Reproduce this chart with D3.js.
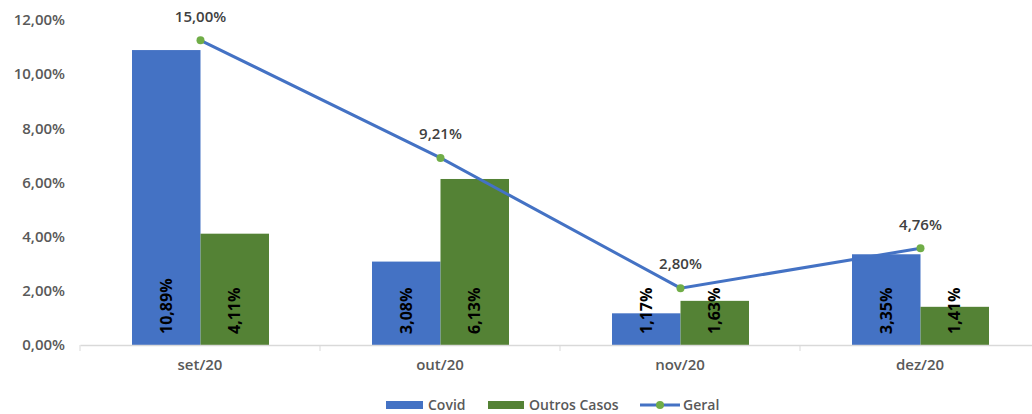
<!DOCTYPE html>
<html>
<head>
<meta charset="utf-8">
<script src="https://cdn.jsdelivr.net/npm/d3@7"></script>
<style>
  body { margin: 0; background: #fff; }
  text { font-family: "Open Sans", "Noto Sans", sans-serif; }
</style>
</head>
<body>
<div id="chart"></div>
<script>
(function () {

    const months = ['set/20', 'out/20', 'nov/20', 'dez/20'];
    const covid = [10.89, 3.08, 1.17, 3.35];
    const outros = [4.11, 6.13, 1.63, 1.41];
    const geral = [15.00, 9.21, 2.80, 4.76];
    const yTicks = [0, 2, 4, 6, 8, 10, 12];

    const fmt = v => v.toFixed(2).replace('.', ',') + '%';

    const svg = d3.select('#chart')
        .append('svg')
        .attr('width', 1032)
        .attr('height', 414);

    // escalas
    const x = d3.scaleBand()
        .domain(months)
        .range([80, 1040]);

    const xs = d3.scaleBand()
        .domain(['covid', 'outros'])
        .range([52, 189]);

    const y = d3.scaleLinear()
        .domain([0, 12])
        .range([345, 20]);

    // eixo secundário (oculto) para a linha
    const y2 = d3.scaleLinear()
        .domain([0, 16])
        .range([345, 20]);

    // rótulos do eixo Y
    svg.append('g')
        .selectAll('text')
        .data(yTicks)
        .enter()
        .append('text')
        .attr('x', 65)
        .attr('y', d => y(d))
        .attr('dy', '0.35em')
        .attr('text-anchor', 'end')
        .attr('fill', '#595959')
        .attr('font-size', 15)
        .attr('font-weight', 600)
        .text(d => d.toFixed(2).replace('.', ',') + '%');

    // barras
    const series = [
        { key: 'covid', values: covid, color: '#4472C4' },
        { key: 'outros', values: outros, color: '#548235' }
    ];

    series.forEach(s => {
        const g = svg.append('g');
        g.selectAll('rect')
            .data(s.values)
            .enter()
            .append('rect')
            .attr('x', (d, i) => x(months[i]) + xs(s.key))
            .attr('width', xs.bandwidth())
            .attr('y', d => y(d))
            .attr('height', d => y(0) - y(d))
            .attr('fill', s.color);

        g.selectAll('text')
            .data(s.values)
            .enter()
            .append('text')
            .attr('transform', (d, i) => {
                const cx = x(months[i]) + xs(s.key) + xs.bandwidth() / 2;
                return `translate(${cx},${y(0) - 11}) rotate(-90)`;
            })
            .attr('dy', '0.35em')
            .attr('text-anchor', 'start')
            .attr('fill', '#000')
            .attr('font-size', 16)
            .attr('font-weight', 700)
            .text(d => fmt(d));
    });

    // eixo X
    const xAxis = svg.append('g')
        .attr('transform', 'translate(0,345)')
        .call(d3.axisBottom(x).tickSize(0).tickPadding(14));
    xAxis.select('.domain').attr('stroke', '#d9d9d9').attr('stroke-width', 1.5);
    xAxis.selectAll('text')
        .attr('fill', '#595959')
        .attr('font-size', 15)
        .attr('font-weight', 600)
        .style('font-family', '"Open Sans", "Noto Sans", sans-serif');

    svg.append('g')
        .selectAll('line')
        .data(months.slice(1))
        .enter()
        .append('line')
        .attr('x1', d => x(d))
        .attr('x2', d => x(d))
        .attr('y1', 345)
        .attr('y2', 351)
        .attr('stroke', '#d9d9d9');

    svg.append('line')
        .attr('x1', 80).attr('x2', 80)
        .attr('y1', 345).attr('y2', 351)
        .attr('stroke', '#d9d9d9');

    // linha Geral
    const line = d3.line()
        .x((d, i) => x(months[i]) + xs('outros'))
        .y(d => y2(d));

    svg.append('path')
        .datum(geral)
        .attr('d', line)
        .attr('fill', 'none')
        .attr('stroke', '#4472C4')
        .attr('stroke-width', 3);

    svg.append('g')
        .selectAll('circle')
        .data(geral)
        .enter()
        .append('circle')
        .attr('cx', (d, i) => x(months[i]) + xs('outros'))
        .attr('cy', d => y2(d))
        .attr('r', 4)
        .attr('fill', '#70AD47');

    svg.append('g')
        .selectAll('text')
        .data(geral)
        .enter()
        .append('text')
        .attr('x', (d, i) => x(months[i]) + xs('outros'))
        .attr('y', d => y2(d) - 24)
        .attr('dy', '0.35em')
        .attr('text-anchor', 'middle')
        .attr('fill', '#404040')
        .attr('font-size', 15)
        .attr('font-weight', 600)
        .text(d => fmt(d));

    // legenda
    const legend = svg.append('g').attr('transform', 'translate(0,405)');
    legend.append('rect').attr('x', 386).attr('y', -4).attr('width', 37).attr('height', 8).attr('fill', '#4472C4');
    legend.append('text').attr('x', 428).attr('dy', '0.35em').text('Covid');
    legend.append('rect').attr('x', 488).attr('y', -4).attr('width', 36).attr('height', 8).attr('fill', '#548235');
    legend.append('text').attr('x', 529).attr('dy', '0.35em').text('Outros Casos');
    legend.append('line').attr('x1', 640).attr('x2', 680).attr('stroke', '#4472C4').attr('stroke-width', 3);
    legend.append('circle').attr('cx', 660).attr('r', 4).attr('fill', '#70AD47');
    legend.append('text').attr('x', 683).attr('dy', '0.35em').text('Geral');
    legend.selectAll('text')
        .attr('fill', '#595959')
        .attr('font-size', 14)
        .attr('font-weight', 600);

})();
</script>
</body>
</html>
